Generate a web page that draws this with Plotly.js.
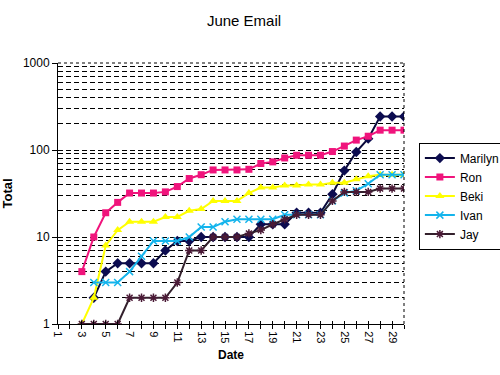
<!DOCTYPE html>
<html>
<head>
<meta charset="utf-8">
<script src="https://cdn.plot.ly/plotly-3.0.1.min.js"></script>
<style>html,body{margin:0;padding:0;background:#fff;}#chart{width:500px;height:375px;}</style>
</head>
<body>
<div id="chart"></div>
<script>
// Days of June shown on the chart
const days = [3,4,5,6,7,8,9,10,11,12,13,14,15,16,17,18,19,20,21,22,23,24,25,26,27,28,29,30];

// Running totals per person (null = no value yet)
const marilyn = [null,2,4,5,5,5,5,7,9,9,10,10,10,10,10,14,14,14,19,19,19,31,58,95,135,243,243,243];
const ron     = [4,10,19,25,32,32,32,33,38,47,52,59,59,59,60,70,73,81,87,87,87,96,111,130,144,169,169,169];
const beki    = [1,2,8,12,15,15,15,17,17,20,21,26,26,26,32,37,37,39,39,40,40,42,42,46,50,52,52,52];
const ivan    = [null,3,3,3,4,6,9,9,9,10,13,13,15,16,16,16,16,18,18,18,18,26,32,34,41,52,52,52];
const jay     = [1,1,1,1,2,2,2,2,3,7,7,10,10,10,11,12,14,16,18,18,18,26,33,33,33,36,36,36];

// Axis tick labels
const xTickVals = [1,2,3,4,5,6,7,8,9,10,11,12,13,14,15,16,17,18,19,20,21,22,23,24,25,26,27,28,29,30];
const xTickText = xTickVals.map(v => (v % 2 === 1 ? String(v) : ''));
const yTickVals = [1,10,100,1000];
const yTickText = ['1','10','100','1000'];
const yMinorVals = [2,3,4,5,6,7,8,9,20,30,40,50,60,70,80,90,200,300,400,500,600,700,800,900];

const FONT = 'Liberation Sans, Arial, sans-serif';

function series(name, y, color, lineColor, symbol, size, mlw) {
  return {
    type: 'scatter', mode: 'lines+markers', name: name, x: days, y: y,
    line: {color: lineColor, width: 2},
    marker: {color: color, symbol: symbol, size: size, line: {color: color, width: mlw}},
    connectgaps: false
  };
}

const data = [
  series('Marilyn', marilyn, '#0c0c50', '#08083a', 'diamond', 8, 0),
  series('Ron', ron, '#f0147c', '#f0147c', 'square', 7, 0),
  series('Beki', beki, '#ffff00', '#ffff00', 'triangle-up', 8, 0),
  series('Ivan', ivan, '#14b4ec', '#14b4ec', 'x-thin-open', 7, 1.5),
  series('Jay', jay, '#4a1a36', '#33202c', 'asterisk-open', 7, 1.5),
  {type: 'scatter', x: [], y: [], xaxis: 'x2', showlegend: false, hoverinfo: 'skip'}
];

const layout = {
  width: 500, height: 375,
  paper_bgcolor: '#fff', plot_bgcolor: '#fff',
  margin: {l: 58, r: 96, t: 63, b: 51, autoexpand: false},
  font: {family: FONT, size: 12, color: '#000'},
  title: {text: 'June Email', font: {family: FONT, size: 15, color: '#000'},
          x: 0.488, xref: 'container', xanchor: 'center', y: 0.945, yref: 'container', yanchor: 'middle'},
  showlegend: true,
  legend: {x: 1.043, xanchor: 'left', y: 0.695, yanchor: 'top',
           bordercolor: '#000', borderwidth: 1, bgcolor: '#fff',
           font: {family: FONT, size: 12, color: '#000'}, tracegroupgap: 0, itemwidth: 30},
  xaxis: {
    range: [1, 30], tickmode: 'array', tickvals: xTickVals, ticktext: xTickText,
    tickangle: 90, ticks: 'outside', ticklen: 4, tickcolor: '#000', tickwidth: 1,
    showline: true, linecolor: '#000', linewidth: 1, showgrid: false, zeroline: false,
    tickfont: {family: FONT, size: 11, color: '#000'},
    title: {text: '<b>Date</b>', font: {family: FONT, size: 12, color: '#000'}, standoff: 8}
  },
  xaxis2: {
    range: [1, 30], overlaying: 'x', anchor: 'y', side: 'bottom',
    tickmode: 'array', tickvals: xTickVals, ticks: 'inside', ticklen: 3, tickcolor: '#000',
    showticklabels: false, showgrid: false, zeroline: false, showline: false
  },
  yaxis: {
    type: 'log', range: [0, 3], tickmode: 'array', tickvals: yTickVals, ticktext: yTickText,
    ticks: 'outside', ticklen: 5, tickcolor: '#000', automargin: true,
    showline: true, linecolor: '#000', linewidth: 1, zeroline: false,
    showgrid: true, gridcolor: '#000', gridwidth: 1, griddash: '5px,3px',
    minor: {tickmode: 'array', tickvals: yMinorVals, showgrid: true, gridcolor: '#000', gridwidth: 1, griddash: '5px,3px', ticks: ''},
    tickfont: {family: FONT, size: 12, color: '#000'},
    title: {text: '<b>Total</b>', font: {family: FONT, size: 13, color: '#000'}, standoff: 12}
  },
  shapes: [
    {type: 'line', xref: 'paper', yref: 'paper', x0: 0, x1: 1, y0: 1, y1: 1, line: {color: '#fff', width: 1}, layer: 'above'},
    {type: 'line', xref: 'paper', yref: 'paper', x0: 0, x1: 1, y0: 1, y1: 1, line: {color: '#000', width: 1, dash: 'dot'}, layer: 'above'},
    {type: 'line', xref: 'paper', yref: 'paper', x0: 1, x1: 1, y0: 0, y1: 1, line: {color: '#000', width: 1, dash: 'dot'}, layer: 'above'}
  ]
};

Plotly.newPlot('chart', data, layout, {displayModeBar: false, staticPlot: true});
</script>
</body>
</html>
